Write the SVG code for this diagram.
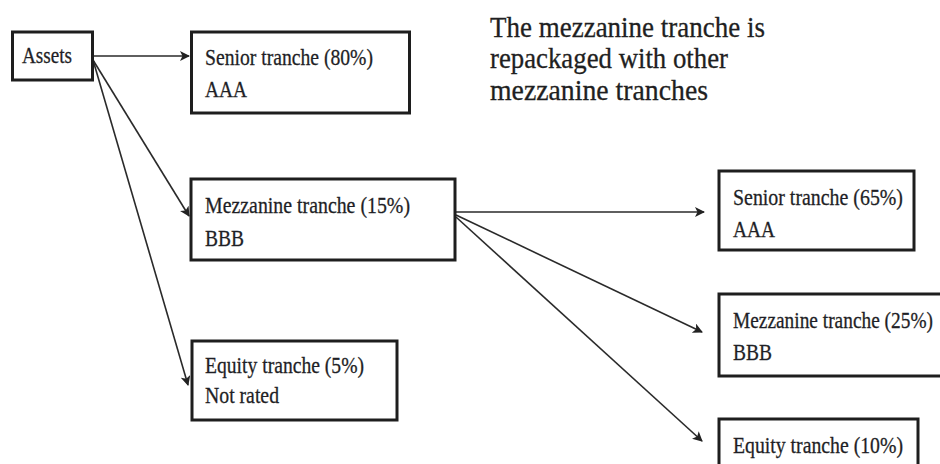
<svg xmlns="http://www.w3.org/2000/svg" width="940" height="464" viewBox="0 0 940 464">
<style>
.box{fill:#fff;stroke:#1e1e1e;stroke-width:3}
.t{font-family:"Liberation Serif","DejaVu Serif",serif;font-size:24px;fill:#1f1f26;stroke:#1f1f26;stroke-width:0.3}
.title{font-family:"Liberation Serif","DejaVu Serif",serif;font-size:29px;fill:#1f1f22;stroke:#1f1f22;stroke-width:0.3}
.c{fill:none;stroke:#2a2a2a;stroke-width:1.6}
</style>
<defs>
<marker id="ah" viewBox="0 0 10 10" refX="9" refY="5" markerWidth="11" markerHeight="10" markerUnits="userSpaceOnUse" orient="auto">
<path d="M0,0 L10,5 L0,10 L2.5,5 Z" fill="#222"/>
</marker>
</defs>
<rect width="940" height="464" fill="#fff"/>
<g id="title">
<text class="title" x="490" y="37" textLength="275" lengthAdjust="spacingAndGlyphs">The mezzanine tranche is</text>
<text class="title" x="490" y="68" textLength="238" lengthAdjust="spacingAndGlyphs">repackaged with other</text>
<text class="title" x="490" y="100" textLength="218" lengthAdjust="spacingAndGlyphs">mezzanine tranches</text>
</g>
<g id="connectors">
<line class="c" x1="93" y1="56" x2="189" y2="56" marker-end="url(#ah)"/>
<line class="c" x1="93" y1="60" x2="189" y2="216" marker-end="url(#ah)"/>
<line class="c" x1="93" y1="60" x2="188" y2="385" marker-end="url(#ah)"/>
<line class="c" x1="456" y1="212" x2="704" y2="212" marker-end="url(#ah)"/>
<line class="c" x1="456" y1="215" x2="702" y2="332" marker-end="url(#ah)"/>
<line class="c" x1="456" y1="217" x2="702" y2="441" marker-end="url(#ah)"/>
</g>
<g id="assets">
<rect class="box" x="12.5" y="32" width="80" height="48"/>
<text class="t" x="22" y="63" textLength="50" lengthAdjust="spacingAndGlyphs">Assets</text>
</g>
<g id="senior80">
<rect class="box" x="191.5" y="32" width="218" height="81"/>
<text class="t" x="205" y="65" textLength="168" lengthAdjust="spacingAndGlyphs">Senior tranche (80%)</text>
<text class="t" x="205" y="97" textLength="42" lengthAdjust="spacingAndGlyphs">AAA</text>
</g>
<g id="mezz15">
<rect class="box" x="191" y="179" width="264" height="81"/>
<text class="t" x="205" y="213" textLength="205" lengthAdjust="spacingAndGlyphs">Mezzanine tranche (15%)</text>
<text class="t" x="205" y="246" textLength="39" lengthAdjust="spacingAndGlyphs">BBB</text>
</g>
<g id="equity5">
<rect class="box" x="192" y="341" width="205" height="79"/>
<text class="t" x="205" y="373" textLength="159" lengthAdjust="spacingAndGlyphs">Equity tranche (5%)</text>
<text class="t" x="205" y="403" textLength="74" lengthAdjust="spacingAndGlyphs">Not rated</text>
</g>
<g id="senior65">
<rect class="box" x="719" y="171" width="195" height="79"/>
<text class="t" x="733" y="205" textLength="170" lengthAdjust="spacingAndGlyphs">Senior tranche (65%)</text>
<text class="t" x="733" y="237" textLength="42" lengthAdjust="spacingAndGlyphs">AAA</text>
</g>
<g id="mezz25">
<rect class="box" x="719" y="294" width="232" height="82"/>
<text class="t" x="733" y="328" textLength="200" lengthAdjust="spacingAndGlyphs">Mezzanine tranche (25%)</text>
<text class="t" x="733" y="360" textLength="39" lengthAdjust="spacingAndGlyphs">BBB</text>
</g>
<g id="equity10">
<rect class="box" x="719" y="419" width="199" height="70"/>
<text class="t" x="733" y="453" textLength="170" lengthAdjust="spacingAndGlyphs">Equity tranche (10%)</text>
</g>
</svg>
